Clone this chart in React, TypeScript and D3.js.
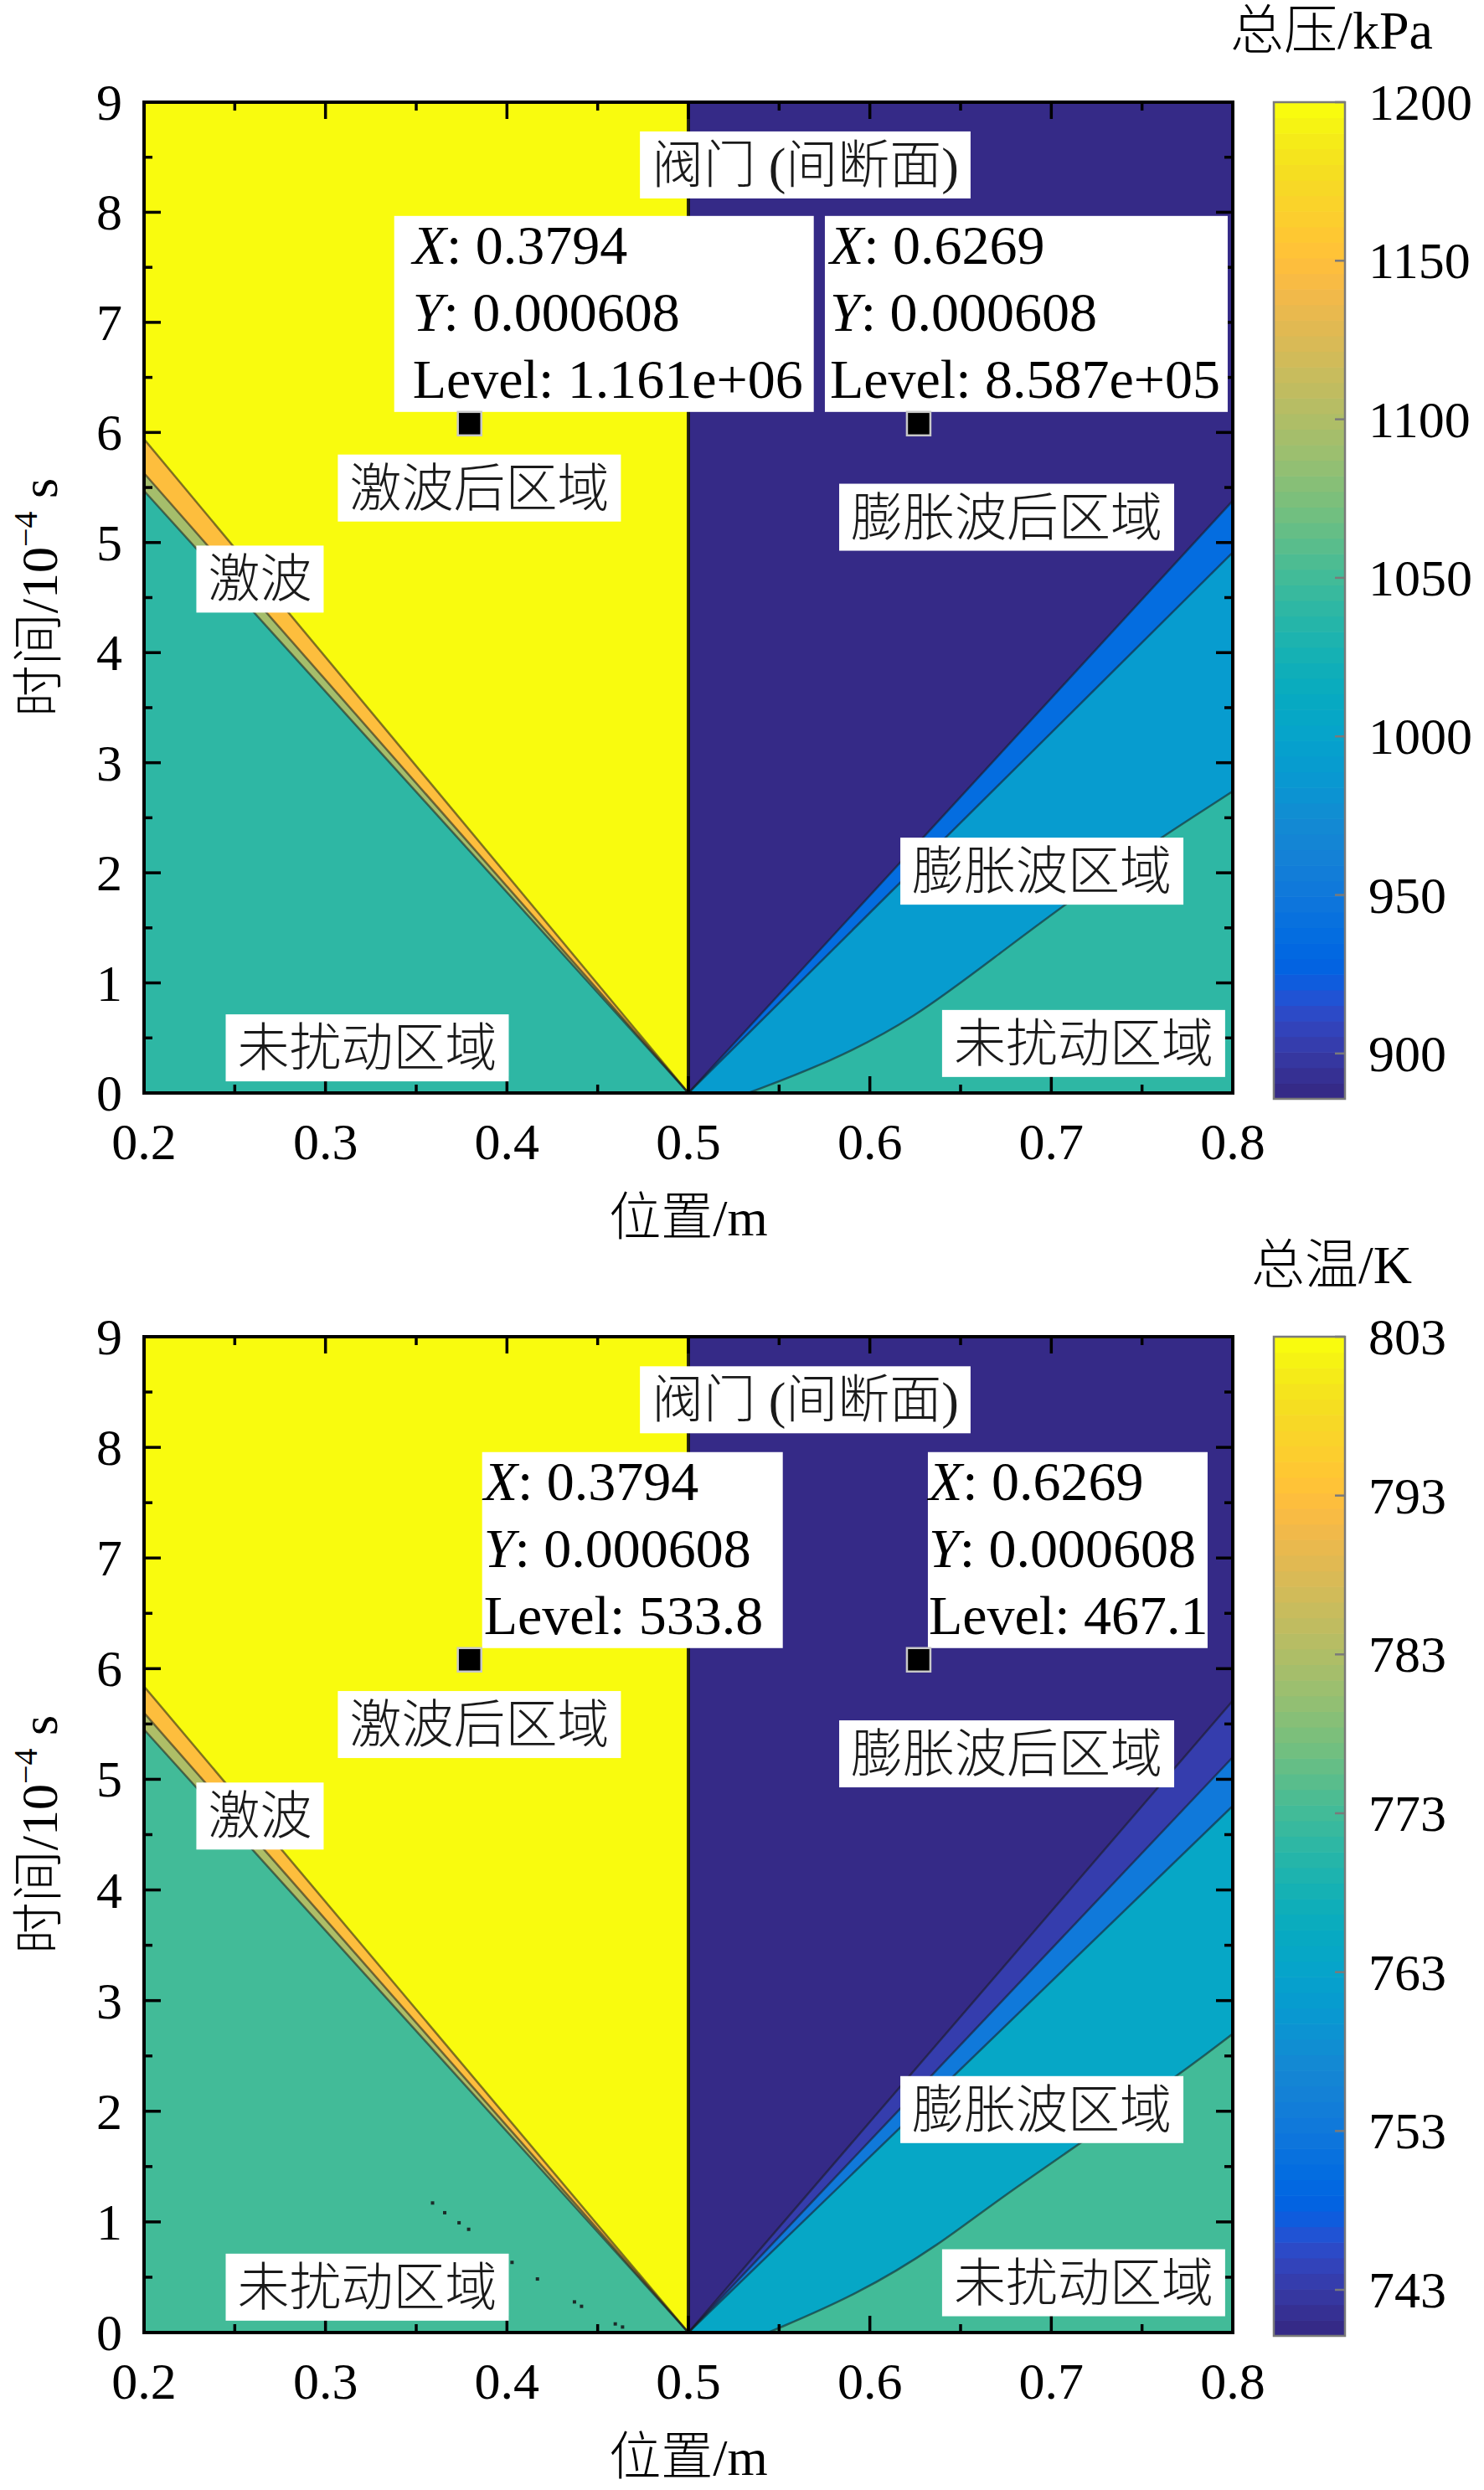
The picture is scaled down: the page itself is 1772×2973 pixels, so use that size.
import React, { useMemo } from "react";
import * as d3 from "d3";

// MATLAB parula(64)
const PARULA = [
  [0.2081, 0.1663, 0.5292], [0.2116, 0.1898, 0.5777], [0.2123, 0.2138, 0.627], [0.2081, 0.2386, 0.6771],
  [0.1959, 0.2645, 0.7279], [0.1707, 0.2919, 0.7792], [0.1253, 0.3242, 0.8303], [0.0591, 0.3598, 0.8683],
  [0.0117, 0.3875, 0.882], [0.006, 0.4086, 0.8828], [0.0165, 0.4266, 0.8786], [0.0329, 0.443, 0.872],
  [0.0498, 0.4586, 0.8641], [0.0629, 0.4737, 0.8554], [0.0723, 0.4887, 0.8467], [0.0779, 0.504, 0.8384],
  [0.0793, 0.52, 0.8312], [0.0749, 0.5375, 0.8263], [0.0641, 0.557, 0.824], [0.0488, 0.5772, 0.8228],
  [0.0343, 0.5966, 0.8199], [0.0265, 0.6137, 0.8135], [0.0239, 0.6287, 0.8038], [0.0231, 0.6418, 0.7913],
  [0.0228, 0.6535, 0.7768], [0.0267, 0.6642, 0.7607], [0.0384, 0.6743, 0.7436], [0.059, 0.6838, 0.7254],
  [0.0843, 0.6928, 0.7062], [0.1133, 0.7015, 0.6859], [0.1453, 0.7098, 0.6646], [0.1801, 0.7177, 0.6424],
  [0.2178, 0.725, 0.6193], [0.2586, 0.7317, 0.5954], [0.3022, 0.7376, 0.5712], [0.3482, 0.7424, 0.5473],
  [0.3953, 0.7459, 0.5244], [0.442, 0.7481, 0.5033], [0.4871, 0.7491, 0.484], [0.53, 0.7491, 0.4661],
  [0.5709, 0.7485, 0.4494], [0.6099, 0.7473, 0.4337], [0.6473, 0.7456, 0.4188], [0.6834, 0.7435, 0.4044],
  [0.7184, 0.7411, 0.3905], [0.7525, 0.7384, 0.3768], [0.7858, 0.7356, 0.3633], [0.8185, 0.7327, 0.3498],
  [0.8507, 0.7299, 0.336], [0.8824, 0.7274, 0.3217], [0.9139, 0.7258, 0.3063], [0.945, 0.7261, 0.2886],
  [0.9739, 0.7314, 0.2666], [0.9938, 0.7455, 0.2403], [0.999, 0.7653, 0.2164], [0.9955, 0.7861, 0.1967],
  [0.988, 0.8066, 0.1794], [0.9789, 0.8271, 0.1633], [0.9697, 0.8481, 0.1475], [0.9626, 0.8705, 0.1309],
  [0.9589, 0.8949, 0.1132], [0.9598, 0.9218, 0.0948], [0.9661, 0.9514, 0.0755], [0.9763, 0.9831, 0.0538],
].map(([r, g, b]) => d3.rgb(r * 255, g * 255, b * 255).formatHex());

const xTicks = [0.2, 0.3, 0.4, 0.5, 0.6, 0.7, 0.8];
const xMinor = [0.25, 0.35, 0.45, 0.55, 0.65, 0.75];
const yTicks = [0, 1, 2, 3, 4, 5, 6, 7, 8, 9];
const yMinor = [0.5, 1.5, 2.5, 3.5, 4.5, 5.5, 6.5, 7.5, 8.5];

// region labels (same place in both panels), x in m, t in 1e-4 s
const regionNames = ["阀门 (间断面)", "激波后区域", "激波", "未扰动区域", "膨胀波后区域", "膨胀波区域", "未扰动区域"];
const regionX = [0.5644, 0.3848, 0.2639, 0.323, 0.6754, 0.6948, 0.7178];
const regionT = [8.43, 5.495, 4.668, 0.41, 5.23, 2.015, 0.45];

// total pressure panel (kPa)
const pShockT = [5.94, 5.63, 5.47]; // contour rays from (0.5,0), t where they hit x=0.2
const pShockLevels = [1198, 1150, 1095, 1040];
const pFanT = [5.38, 4.91]; // rays from (0.5,0), t where they hit x=0.8
const pFanLevels = [886, 935, 990];
const pCoreX = [0.533, 0.578, 0.624, 0.67, 0.735, 0.8];
const pCoreT = [0, 0.28, 0.67, 1.25, 2.05, 2.74];
const pCoreLevel = 1040;
const pBarRange = [885.7, 1200];
const pBarTicks = [900, 950, 1000, 1050, 1100, 1150, 1200];
const pTipX = [0.3794, 0.6269];
const pTipY = [0.000608, 0.000608];
const pTipLevel = [1.161e6, 8.587e5];

// total temperature panel (K)
const tShockT = [5.84, 5.6, 5.45];
const tShockLevels = [803, 793, 783, 773];
const tFanT = [5.71, 5.2, 4.76];
const tFanLevels = [740, 743, 753, 764];
const tCoreX = [0.544, 0.593, 0.639, 0.67, 0.765, 0.8];
const tCoreT = [0, 0.34, 0.8, 1.2, 2.26, 2.7];
const tCoreLevel = 773;
const tBarRange = [740.1, 803];
const tBarTicks = [743, 753, 763, 773, 783, 793, 803];
const tTipX = [0.3794, 0.6269];
const tTipY = [0.000608, 0.000608];
const tTipLevel = [533.8, 467.1];
const tSpeckX = [0.359, 0.3657, 0.3736, 0.3789, 0.4028, 0.4168, 0.4372, 0.4411, 0.4597, 0.4637];
const tSpeckT = [1.171, 1.083, 0.992, 0.933, 0.634, 0.484, 0.277, 0.237, 0.078, 0.05];

const FONT = "'Liberation Serif', 'Noto Sans CJK SC', serif";
const FS = 62;
const TIP_FS = 66;
const PLOT_L = 172;
const PLOT_R = 1472;
const BAR_L = 1521;
const BAR_W = 85;

const fmtG = (v: number) => d3.format(".4")(v).replace(/e([+-])(\d)$/, "e$10$2");

let measureCtx: CanvasRenderingContext2D | null = null;
function textWidth(s: string, size: number) {
  if (!measureCtx) measureCtx = document.createElement("canvas").getContext("2d");
  if (!measureCtx) return s.length * size;
  measureCtx.font = `300 ${size}px ${FONT}`;
  return measureCtx.measureText(s).width;
}

function Panel(props: any) {
  const {
    id, top, bottom, barBottom, shockT, shockLevels, fanT, fanLevels, coreX, coreT, coreLevel,
    barRange, barTicks, barTitle, tipX, tipY, tipLevel, tipLayout, speckX, speckT,
  } = props;

  const x = d3.scaleLinear().domain([0.2, 0.8]).range([PLOT_L, PLOT_R]);
  const y = d3.scaleLinear().domain([0, 9]).range([bottom, top]);
  const cb = d3.scaleLinear().domain(barRange).range([barBottom, top]);
  const colour = (v: number) => {
    const i = Math.round(((v - barRange[0]) / (barRange[1] - barRange[0])) * 63);
    return PARULA[Math.max(0, Math.min(63, i))];
  };
  const line = d3.line<number[]>().x((d) => x(d[0])).y((d) => y(d[1]));
  const poly = (pts: number[][]) => line(pts) + "Z";
  const corePts = coreX.map((v: number, i: number) => [v, coreT[i]]);
  const coreLine = d3.line<number[]>().x((d) => x(d[0])).y((d) => y(d[1])).curve(d3.curveBasis);
  const corePath = coreLine(corePts) + `L${x(0.8)},${y(0)}Z`;

  const barSteps = d3.range(64);
  const step = (barRange[1] - barRange[0]) / 64;

  const labelBoxes = useMemo(() => regionNames.map((s) => textWidth(s, FS) + 28), []);

  const edge = { stroke: "#1a1a1a", strokeWidth: 2.5, strokeOpacity: 0.55, fill: "none" };

  return (
    <g>
      <defs>
        <clipPath id={`clip-${id}`}>
          <rect x={PLOT_L} y={top} width={PLOT_R - PLOT_L} height={bottom - top} />
        </clipPath>
      </defs>
      <g clipPath={`url(#clip-${id})`}>
        {/* left: shock side */}
        <path d={poly([[0.5, 0], [0.5, 9], [0.2, 9], [0.2, 0]])} fill={colour(shockLevels[0])} />
        {shockT.map((t: number, i: number) => (
          <path key={`s${i}`} d={poly([[0.5, 0], [0.2, t], [0.2, 0]])} fill={colour(shockLevels[i + 1])} />
        ))}
        {/* right: expansion side */}
        <path d={poly([[0.5, 0], [0.5, 9], [0.8, 9], [0.8, 0]])} fill={colour(fanLevels[0])} />
        {fanT.map((t: number, i: number) => (
          <path key={`f${i}`} d={poly([[0.5, 0], [0.8, t], [0.8, 0]])} fill={colour(fanLevels[i + 1])} />
        ))}
        <path d={corePath} fill={colour(coreLevel)} />
        {/* contour lines */}
        {shockT.map((t: number, i: number) => (
          <path key={`sl${i}`} d={line([[0.5, 0], [0.2, t]])!} {...edge} />
        ))}
        {fanT.map((t: number, i: number) => (
          <path key={`fl${i}`} d={line([[0.5, 0], [0.8, t]])!} {...edge} />
        ))}
        <path d={coreLine(corePts)!} {...edge} />
        <path d={line([[0.5, 0], [0.5, 9]])!} stroke="#111" strokeWidth={4} strokeOpacity={0.9} fill="none" />
        {speckX &&
          speckX.map((v: number, i: number) => (
            <rect key={`k${i}`} x={x(v) - 2} y={y(speckT[i]) - 2} width={4} height={4} fill="#1b2b28" />
          ))}
      </g>

      {/* frame and ticks */}
      <rect x={PLOT_L} y={top} width={PLOT_R - PLOT_L} height={bottom - top} fill="none" stroke="#000" strokeWidth={4} />
      <g stroke="#000" strokeWidth={3.5}>
        {xTicks.map((v) => (
          <g key={`xt${v}`}>
            <line x1={x(v)} x2={x(v)} y1={bottom} y2={bottom - 20} />
            <line x1={x(v)} x2={x(v)} y1={top} y2={top + 20} />
          </g>
        ))}
        {xMinor.map((v) => (
          <g key={`xm${v}`}>
            <line x1={x(v)} x2={x(v)} y1={bottom} y2={bottom - 10} />
            <line x1={x(v)} x2={x(v)} y1={top} y2={top + 10} />
          </g>
        ))}
        {yTicks.map((v) => (
          <g key={`yt${v}`}>
            <line x1={PLOT_L} x2={PLOT_L + 20} y1={y(v)} y2={y(v)} />
            <line x1={PLOT_R} x2={PLOT_R - 20} y1={y(v)} y2={y(v)} />
          </g>
        ))}
        {yMinor.map((v) => (
          <g key={`ym${v}`}>
            <line x1={PLOT_L} x2={PLOT_L + 10} y1={y(v)} y2={y(v)} />
            <line x1={PLOT_R} x2={PLOT_R - 10} y1={y(v)} y2={y(v)} />
          </g>
        ))}
      </g>
      <g fontFamily={FONT} fontSize={FS} fill="#000">
        {xTicks.map((v) => (
          <text key={`xl${v}`} x={x(v)} y={bottom + 79} textAnchor="middle">
            {d3.format(".1f")(v)}
          </text>
        ))}
        {yTicks.map((v) => (
          <text key={`yl${v}`} x={PLOT_L - 26} y={y(v) + 21} textAnchor="end">
            {v}
          </text>
        ))}
        <text x={(PLOT_L + PLOT_R) / 2} y={bottom + 170} textAnchor="middle" fontWeight={300} fontSize={62}>
          位置/m
        </text>
        <text transform={`translate(68, ${(top + bottom) / 2}) rotate(-90)`} textAnchor="middle" fontWeight={300}>
          时间/10
          <tspan fontSize={40} dy={-24}>−4</tspan>
          <tspan dy={24}> s</tspan>
        </text>
      </g>

      {/* region labels */}
      <g fontFamily={FONT} fontSize={FS} fontWeight={300} fill="#1a1a1a">
        {regionNames.map((s, i) => {
          const cx = x(regionX[i]);
          const cy = y(regionT[i]);
          const w = labelBoxes[i];
          return (
            <g key={`r${i}`}>
              <rect x={cx - w / 2} y={cy - 40} width={w} height={80} fill="#fff" />
              <text x={cx} y={cy + 22} textAnchor="middle">
                {s}
              </text>
            </g>
          );
        })}
      </g>

      {/* data tips */}
      <g fontFamily={FONT} fontSize={TIP_FS} fill="#000">
        {tipX.map((tx: number, i: number) => {
          const mx = x(tx);
          const my = y(tipY[i] * 1e4);
          const L = tipLayout[i];
          const bx = mx + L.dx;
          const by = my - 14 - 234;
          return (
            <g key={`tip${i}`}>
              <rect x={bx} y={by} width={L.w} height={234} fill="#fff" />
              <text x={bx + L.pad} y={by + 57}>
                <tspan fontStyle="italic">X</tspan>: {fmtG(tx)}
              </text>
              <text x={bx + L.pad} y={by + 137}>
                <tspan fontStyle="italic">Y</tspan>: {fmtG(tipY[i])}
              </text>
              <text x={bx + L.pad} y={by + 217}>
                Level: {fmtG(tipLevel[i])}
              </text>
              <rect x={mx - 14} y={my - 14} width={28} height={28} fill="#000" stroke="#c8c8c8" strokeWidth={2.5} />
            </g>
          );
        })}
      </g>

      {/* colour bar */}
      {barSteps.map((i) => (
        <rect
          key={`cb${i}`}
          x={BAR_L}
          y={cb(barRange[0] + (i + 1) * step)}
          width={BAR_W}
          height={cb(barRange[0] + i * step) - cb(barRange[0] + (i + 1) * step) + 0.6}
          fill={PARULA[i]}
        />
      ))}
      <rect x={BAR_L} y={top} width={BAR_W} height={barBottom - top} fill="none" stroke="#7a7a7a" strokeWidth={2.5} />
      {barTicks.map((v: number) => (
        <g key={`bt${v}`}>
          <line x1={BAR_L + BAR_W} x2={BAR_L + BAR_W - 12} y1={cb(v)} y2={cb(v)} stroke="#7a7a7a" strokeWidth={2.5} />
          <text x={BAR_L + 113} y={cb(v) + 21} fontFamily={FONT} fontSize={FS} fill="#000">
            {v}
          </text>
        </g>
      ))}
      <text x={1590} y={top - 64} textAnchor="middle" fontFamily={FONT} fontSize={64} fontWeight={300} fill="#000">
        {barTitle}
      </text>
    </g>
  );
}

export default function App() {
  return (
    <svg
      width={1772}
      height={2973}
      viewBox="0 0 1772 2973"
      style={{ position: "absolute", left: 0, top: 0, background: "#fff", display: "block" }}
    >
      <rect x={0} y={0} width={1772} height={2973} fill="#fff" />
      <Panel
        id="p"
        top={122}
        bottom={1305}
        barBottom={1312}
        shockT={pShockT}
        shockLevels={pShockLevels}
        fanT={pFanT}
        fanLevels={pFanLevels}
        coreX={pCoreX}
        coreT={pCoreT}
        coreLevel={pCoreLevel}
        barRange={pBarRange}
        barTicks={pBarTicks}
        barTitle="总压/kPa"
        tipX={pTipX}
        tipY={pTipY}
        tipLevel={pTipLevel}
        tipLayout={[
          { dx: -90, w: 501, pad: 22 },
          { dx: -112, w: 481, pad: 6 },
        ]}
      />
      <Panel
        id="t"
        top={1596}
        bottom={2785}
        barBottom={2789}
        shockT={tShockT}
        shockLevels={tShockLevels}
        fanT={tFanT}
        fanLevels={tFanLevels}
        coreX={tCoreX}
        coreT={tCoreT}
        coreLevel={tCoreLevel}
        barRange={tBarRange}
        barTicks={tBarTicks}
        barTitle="总温/K"
        tipX={tTipX}
        tipY={tTipY}
        tipLevel={tTipLevel}
        tipLayout={[
          { dx: 15, w: 359, pad: 2 },
          { dx: 11, w: 334, pad: 1 },
        ]}
        speckX={tSpeckX}
        speckT={tSpeckT}
      />
    </svg>
  );
}
